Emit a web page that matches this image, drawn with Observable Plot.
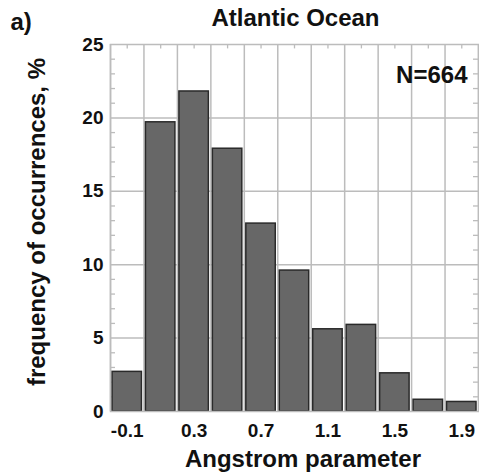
<!DOCTYPE html>
<html>
<head>
<meta charset="utf-8">
<script src="https://cdn.jsdelivr.net/npm/d3@7"></script>
<script src="https://cdn.jsdelivr.net/npm/@observablehq/plot@0.6"></script>
<style>
  html, body { margin: 0; padding: 0; background: #fff; }
  #chart svg { display: block; }
</style>
</head>
<body>
<div id="chart"></div>
<script>
// ---- data ----
const binCenters = [-0.1, 0.1, 0.3, 0.5, 0.7, 0.9, 1.1, 1.3, 1.5, 1.7, 1.9];
const frequency  = [2.7, 19.7, 21.8, 17.9, 12.8, 9.6, 5.6, 5.9, 2.6, 0.8, 0.65];
const binWidth = 0.2;
const xTickLabels = [-0.1, 0.3, 0.7, 1.1, 1.5, 1.9];
const yTickLabels = [0, 5, 10, 15, 20, 25];
const yGrid = [5, 10, 15, 20];
const title = "Atlantic Ocean";
const panelLabel = "a)";
const sampleNote = "N=664";
const xLabel = "Angstrom parameter";
const yLabel = "frequency of occurrences, %";

const bins = binCenters.map((c, i) => ({x1: c - binWidth / 2, x2: c + binWidth / 2, y: frequency[i]}));
const edges = [binCenters[0] - binWidth / 2, ...binCenters.map(c => c + binWidth / 2)];
const xDomain = [edges[0], edges[edges.length - 1]];
const yDomain = [0, 25];
const minorY = d3.range(1, 25).filter(v => v % 5 !== 0);

const font = "'Liberation Sans', Arial, Helvetica, sans-serif";
const gridColor = "#bcbcbc";
const ink = "#111";
const bigFont = 24;

const chart = Plot.plot({
  width: 479,
  height: 474,
  marginLeft: 110,
  marginRight: 1,
  marginTop: 44,
  marginBottom: 63,
  style: {fontFamily: font, fontWeight: "bold", color: ink, background: "#fff"},
  x: {domain: xDomain},
  y: {domain: yDomain},
  marks: [
    // grid
    Plot.ruleX(edges, {x: d => d, stroke: gridColor, strokeWidth: 1.5}),
    Plot.ruleY(yGrid, {y: d => d, stroke: gridColor, strokeWidth: 1.5}),
    // minor ticks (inward)
    Plot.ruleX(binCenters, {x: d => d, y1: yDomain[0], y2: yDomain[0] + 0.3, stroke: gridColor, strokeWidth: 1.3}),
    Plot.ruleX(binCenters, {x: d => d, y1: yDomain[1] - 0.3, y2: yDomain[1], stroke: gridColor, strokeWidth: 1.3}),
    Plot.ruleY(minorY, {y: d => d, x1: xDomain[0], x2: xDomain[0] + 0.03, stroke: gridColor, strokeWidth: 1.3}),
    Plot.ruleY(minorY, {y: d => d, x1: xDomain[1] - 0.03, x2: xDomain[1], stroke: gridColor, strokeWidth: 1.3}),
    // bars
    Plot.rectY(bins, {x1: "x1", x2: "x2", y: "y", fill: "#676767", stroke: "#2a2a2a", strokeWidth: 1.5, insetLeft: 2, insetRight: 2}),
    Plot.frame({stroke: gridColor, strokeWidth: 1.5}),
    // axes
    Plot.axisY(yTickLabels, {tickSize: 0, tickPadding: 7, fontSize: 19, fontWeight: "bold", fill: ink, label: null, tickFormat: d => String(d)}),
    Plot.axisX(xTickLabels, {tickSize: 0, tickPadding: 12, fontSize: 19, fontWeight: "bold", fill: ink, label: null, tickFormat: d => String(d)}),
    // texts
    Plot.text([title], {frameAnchor: "top", textAnchor: "middle", dx: 1, dy: -25.7, fontSize: bigFont, fontWeight: "bold", fill: ink, lineAnchor: "middle"}),
    Plot.text([panelLabel], {frameAnchor: "top-left", textAnchor: "start", dx: -100, dy: -21.7, fontSize: bigFont, fontWeight: "bold", fill: ink, lineAnchor: "middle"}),
    Plot.text([sampleNote], {frameAnchor: "top-right", textAnchor: "end", dx: -11, dy: 31, fontSize: bigFont, fontWeight: "bold", fill: ink, lineAnchor: "middle"}),
    Plot.text([xLabel], {frameAnchor: "bottom", textAnchor: "middle", dx: 8.5, dy: 48.3, fontSize: bigFont, fontWeight: "bold", fill: ink, lineAnchor: "middle"}),
    Plot.text([yLabel], {frameAnchor: "left", textAnchor: "middle", rotate: -90, dx: -72.7, dy: -6, fontSize: bigFont, fontWeight: "bold", fill: ink, lineAnchor: "middle"})
  ]
});
document.getElementById("chart").append(chart);
</script>
</body>
</html>
